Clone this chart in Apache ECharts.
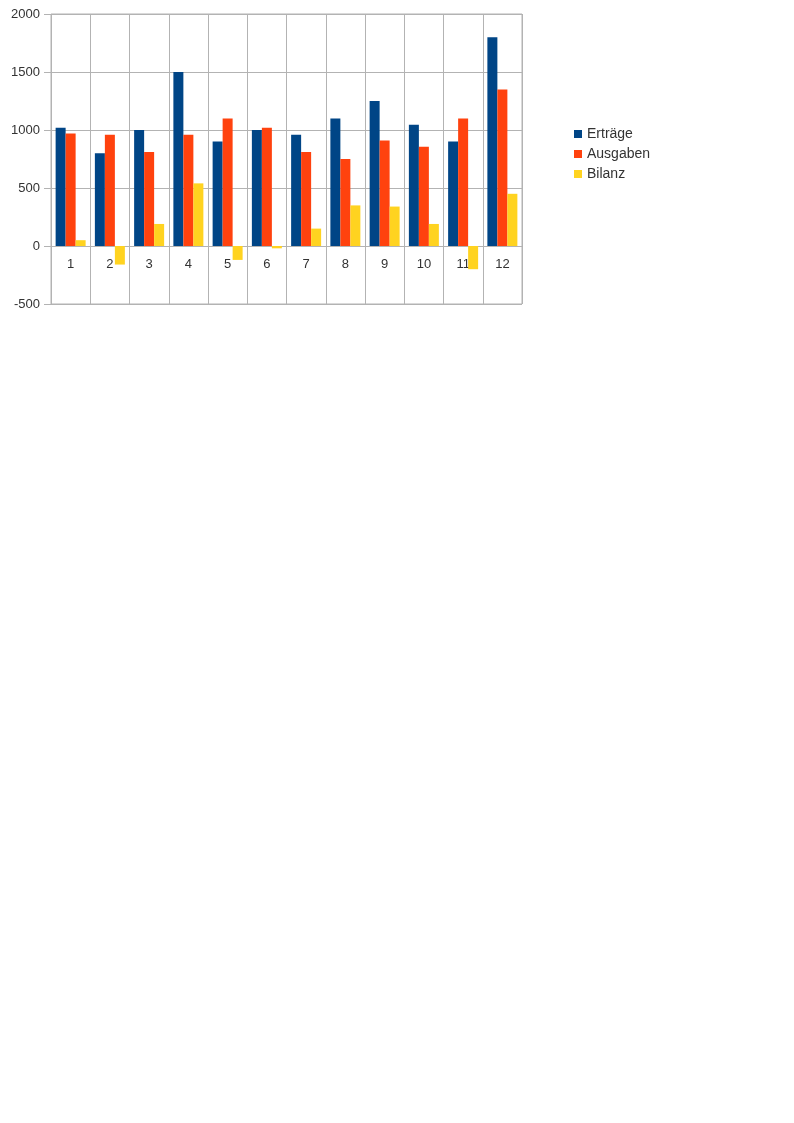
<!DOCTYPE html>
<html>
<head>
<meta charset="utf-8">
<script src="https://cdn.jsdelivr.net/npm/echarts@6/dist/echarts.min.js"></script>
<style>
html,body{margin:0;padding:0;background:#fff;}
#chart{width:794px;height:1123px;}
</style>
</head>
<body>
<div id="chart"></div>
<script>
const categories = ['1','2','3','4','5','6','7','8','9','10','11','12'];
const ertraege = [1020, 800, 1000, 1500, 900, 1000, 960, 1100, 1250, 1045, 900, 1800];
const ausgaben = [970, 960, 810, 960, 1100, 1020, 810, 750, 910, 855, 1100, 1350];
const bilanz = [50, -160, 190, 540, -120, -20, 150, 350, 340, 190, -200, 450];
const seriesNames = ['Erträge', 'Ausgaben', 'Bilanz'];
const colors = ['#004586', '#ff420e', '#ffd320'];

const chart = echarts.init(document.getElementById('chart'), null, {renderer: 'canvas'});
const gridColor = '#b3b3b3';
const font = 'Liberation Sans, Arial, sans-serif';
chart.setOption({
  animation: false,
  color: colors,
  textStyle: {fontFamily: font},
  grid: {left: 51, top: 14, width: 471, height: 290, show: true, borderColor: gridColor, borderWidth: 1, containLabel: false},
  legend: {
    orient: 'vertical', left: 574, top: 127, padding: 0,
    itemWidth: 8, itemHeight: 8, itemGap: 6, icon: 'rect',
    textStyle: {fontSize: 14, color: '#333', fontFamily: font},
    data: seriesNames
  },
  xAxis: {
    type: 'category', data: categories,
    position: 'bottom', offset: -58,
    axisLine: {onZero: false, lineStyle: {color: gridColor}},
    axisTick: {show: false},
    splitLine: {show: true, lineStyle: {color: gridColor}},
    axisLabel: {fontSize: 13, color: '#333', margin: 12, fontFamily: font}
  },
  yAxis: {
    type: 'value', min: -500, max: 2000, interval: 500,
    axisLine: {show: false},
    axisTick: {show: true, length: 7, lineStyle: {color: gridColor}},
    splitLine: {show: true, lineStyle: {color: gridColor}},
    axisLabel: {fontSize: 13, color: '#333', margin: 11, fontFamily: font, formatter: function (v) { return String(v); }}
  },
  series: [
    {name: seriesNames[0], type: 'bar', data: ertraege, barWidth: 10, barGap: '0%'},
    {name: seriesNames[1], type: 'bar', data: ausgaben, barWidth: 10, barGap: '0%'},
    {name: seriesNames[2], type: 'bar', data: bilanz, barWidth: 10, barGap: '0%'}
  ]
});
</script>
</body>
</html>
